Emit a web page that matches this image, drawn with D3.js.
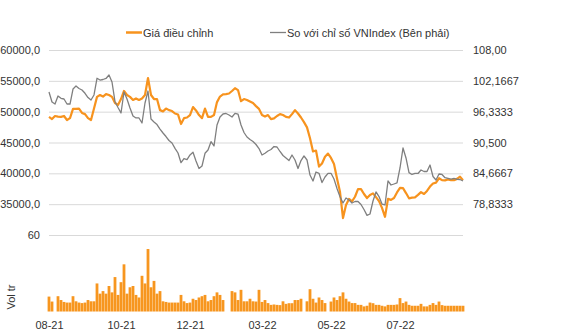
<!DOCTYPE html>
<html>
<head>
<meta charset="utf-8">
<script src="https://cdn.jsdelivr.net/npm/d3@7"></script>
<style>
  html, body { margin: 0; padding: 0; background: #fff; }
  svg { display: block; font-family: "Liberation Sans", Arial, sans-serif; }
</style>
</head>
<body>
<svg id="chart" width="580" height="335"></svg>
<script>
// Adjusted share price (left axis), sessions from 08-21 to 09-22
const price = [
  49150, 48800, 49300, 49200, 49150, 49300, 48650, 48950, 50450, 50450,
  50500, 49800, 49600, 48950, 48650, 50500, 52400, 52700, 52450, 52850,
  52700, 52400, 51400, 51100, 52050, 53350, 52700, 52400, 51900, 52150,
  51900, 52150, 52700, 55450, 52700, 52050, 52050, 50250, 50050, 50500,
  50250, 50100, 49700, 49550, 48000, 48950, 49050, 49450, 50750, 50200,
  49450, 48950, 50500, 49150, 49150, 49450, 51550, 52450, 52800, 52850,
  52950, 53350, 53800, 53500, 51700, 52050, 51900, 51650, 51400, 50900,
  50450, 49450, 49200, 49450, 48800, 48900, 49300, 49600, 49450, 49150,
  49050, 49600, 50250, 49700, 49050, 48300, 47450, 45700, 43550, 43700,
  41100, 41600, 42700, 43200, 42500, 41500, 39150, 37000, 32750, 34850,
  35850, 35450, 36200, 37450, 37450, 36650, 36000, 36500, 36750, 36150,
  35500, 34400, 32950, 35850, 35700, 36000, 36900, 37650, 37600, 36800,
  35950, 36050, 36100, 36500, 36950, 36650, 37150, 37850, 38350, 38500,
  39200, 38900, 38850, 39000, 38900, 38900, 39100, 39450, 38900
];

// Relative to VNIndex (right axis)
const relIndex = [
  100.05, 98.16, 97.78, 99.30, 98.86, 98.73, 97.78, 97.78, 100.62, 101.19,
  100.72, 100.43, 99.81, 99.01, 98.54, 99.49, 102.65, 102.32, 102.42, 102.61,
  103.27, 101.95, 98.22, 97.12, 96.08, 100.05, 98.73, 97.03, 95.51, 95.14,
  95.14, 94.19, 97.97, 100.24, 94.95, 94.38, 93.90, 93.05, 92.30, 91.63,
  90.88, 90.41, 89.40, 88.51, 86.68, 87.47, 87.28, 88.14, 88.65, 87.00,
  85.58, 86.05, 88.46, 89.08, 90.65, 89.84, 93.81, 95.32, 95.89, 95.99,
  95.70, 95.32, 96.02, 95.89, 93.81, 92.39, 91.54, 91.07, 90.69, 90.12,
  89.36, 88.14, 88.46, 88.89, 89.18, 89.74, 89.65, 88.80, 88.04, 87.57,
  87.09, 88.14, 87.19, 85.58, 87.09, 87.95, 87.19, 84.35, 83.22, 84.92,
  84.67, 82.93, 83.97, 84.67, 84.67, 83.59, 81.80, 80.25, 79.05, 80.00,
  79.62, 79.05, 79.34, 79.34, 78.77, 77.82, 76.72, 76.97, 79.43, 81.14,
  80.28, 78.86, 78.68, 83.22, 82.46, 82.65, 82.84, 85.68, 89.46, 87.57,
  84.79, 84.45, 84.64, 84.64, 85.30, 85.01, 85.01, 86.24, 84.07, 83.41,
  84.54, 84.45, 83.84, 83.73, 83.59, 83.69, 83.54, 83.50, 83.22
];

// Trading volume, millions of shares (0 = no data for the session)
const volume = [
  11.7, 7.8, 0, 12, 9, 7.5, 7, 7, 12, 8,
  7, 6.6, 7, 9, 8, 8, 22, 14, 16, 14,
  20, 15, 27, 13, 23, 37, 14, 19, 20, 13,
  11, 28, 22, 49, 19, 24, 14, 16, 8, 7.5,
  7, 7, 7, 7, 13, 8, 6.6, 7, 10, 9,
  11, 12, 13, 8, 9, 12, 15, 13, 9, 0,
  0, 16, 15, 9, 17, 8, 8, 10, 8, 7.8,
  17, 7.5, 9, 6.6, 5.2, 5.5, 5.2, 5, 8, 6,
  6.5, 6.5, 9, 9, 10, 0, 8, 17.5, 10, 7,
  11, 9, 6.6, 0, 7.8, 11, 9, 12, 15, 10,
  7.8, 6.6, 6.6, 5.2, 5.2, 4, 4.5, 7, 6.5, 5.2,
  5.2, 4.5, 4, 5.2, 5.2, 5.2, 5.5, 10.5, 6.6, 7.8,
  5.2, 4.5, 4.5, 4.5, 6, 4, 4, 5.2, 6.6, 5.2,
  7.8, 5, 4.5, 4.5, 4.5, 4.5, 4.5, 4.5, 4.5
];

const monthLabels = ["08-21", "10-21", "12-21", "03-22", "05-22", "07-22"];
const monthSessions = [0, 24, 47, 71, 94, 117];

const leftTicks = [35000, 40000, 45000, 50000, 55000, 60000];
const rightTicks = [78.8333, 84.6667, 90.5, 96.3333, 102.1667, 108];
const rightTickLabels = ["78,8333", "84,6667", "90,500", "96,3333", "102,1667", "108,00"];
const volTicks = [60];

const seriesNames = ["Giá điều chỉnh", "So với chỉ số VNIndex (Bên phải)"];

const ORANGE = "#F7931E";
const BAR = "#F7961F";
const GRAY = "#7f7f7f";
const GRID = "#d9d9d9";
const TEXT = "#333";

const svg = d3.select("#chart");
const L = 49, R = 463;

const x = d3.scaleLinear().domain([0, price.length - 1]).range([L, R]);
const yL = d3.scaleLinear().domain([30000, 60000]).range([235, 50]);
const yR = d3.scaleLinear().domain([73, 108]).range([235, 50]);
const yV = d3.scaleLinear().domain([0, 60]).range([311.5, 235]);

function styleAxis(g) {
  g.select(".domain").remove();
  g.selectAll(".tick line").attr("stroke", GRID).attr("stroke-width", 1);
  g.selectAll(".tick text").attr("fill", TEXT).attr("font-size", 11);
}

// Left axis with gridlines
svg.append("g")
  .attr("transform", `translate(${L},0)`)
  .call(d3.axisLeft(yL).tickValues(leftTicks)
    .tickSizeInner(-(R - L)).tickSizeOuter(0).tickPadding(9)
    .tickFormat(d => d3.format(".1f")(d).replace(".", ",")))
  .call(styleAxis);

// Right axis labels
svg.append("g")
  .attr("transform", `translate(${R},0)`)
  .call(d3.axisRight(yR).tickValues(rightTicks).tickSize(0).tickPadding(10)
    .tickFormat((d, i) => rightTickLabels[i]))
  .call(styleAxis);

// Volume axis (top gridline only)
svg.append("g")
  .attr("transform", `translate(${L},0)`)
  .call(d3.axisLeft(yV).tickValues(volTicks)
    .tickSizeInner(-(R - L)).tickSizeOuter(0).tickPadding(9))
  .call(styleAxis);

// Volume bars
const step = x(1) - x(0);
svg.append("g").selectAll("rect")
  .data(volume)
  .join("rect")
  .attr("x", (d, i) => x(i) - step / 2 + 0.1)
  .attr("width", step - 0.2)
  .attr("y", d => yV(d))
  .attr("height", d => yV(0) - yV(d))
  .attr("fill", BAR);

// Price lines
svg.append("path")
  .datum(price)
  .attr("fill", "none")
  .attr("stroke", ORANGE)
  .attr("stroke-width", 2.2)
  .attr("stroke-linejoin", "round")
  .attr("d", d3.line().x((d, i) => x(i)).y(d => yL(d)));

svg.append("path")
  .datum(relIndex)
  .attr("fill", "none")
  .attr("stroke", GRAY)
  .attr("stroke-width", 1.3)
  .attr("stroke-linejoin", "round")
  .attr("d", d3.line().x((d, i) => x(i)).y(d => yR(d)));

// Month labels
svg.append("g")
  .attr("transform", `translate(0,${yV(0)})`)
  .call(d3.axisBottom(x).tickValues(monthSessions).tickSize(0).tickPadding(10)
    .tickFormat((d, i) => monthLabels[i]))
  .call(styleAxis);

// Volume axis title
svg.append("text")
  .attr("transform", "translate(15,297) rotate(-90)")
  .attr("text-anchor", "middle")
  .attr("font-size", 11)
  .attr("fill", TEXT)
  .text("Vol tr");

// Legend
const legend = [
  { x: 126, color: ORANGE, w: 2.5 },
  { x: 270, color: GRAY, w: 1.3 }
];
legend.forEach((l, i) => {
  svg.append("line")
    .attr("x1", l.x).attr("x2", l.x + 16)
    .attr("y1", 32.5).attr("y2", 32.5)
    .attr("stroke", l.color).attr("stroke-width", l.w);
  svg.append("text")
    .attr("x", l.x + 17).attr("y", 36.5)
    .attr("font-size", 11)
    .attr("fill", TEXT)
    .text(seriesNames[i]);
});
</script>
</body>
</html>
